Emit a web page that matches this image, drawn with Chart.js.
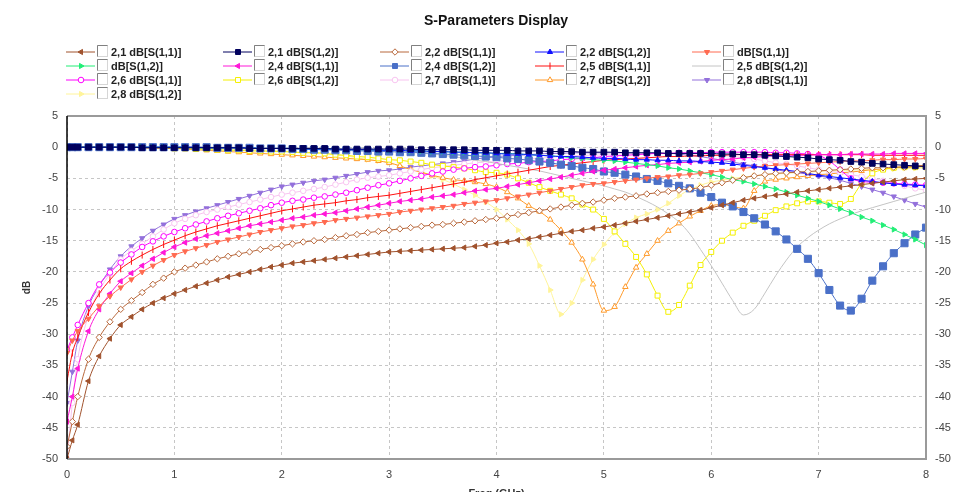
<!DOCTYPE html>
<html>
<head>
<meta charset="utf-8">
<title>S-Parameters Display</title>
<script src="https://cdn.jsdelivr.net/npm/chart.js@4.4.1/dist/chart.umd.min.js"></script>
<style>
  html, body { margin: 0; padding: 0; background: #fff; }
  #wrap { position: relative; width: 963px; height: 492px; }
</style>
</head>
<body>
<div id="wrap"><canvas id="chart" width="963" height="492"></canvas></div>
<script>
// frequency sweep (GHz)
const freqGHz = [0, 0.05, 0.1, 0.2, 0.3, 0.4, 0.5, 0.6, 0.7, 0.8, 0.9,
  1.0, 1.1, 1.2, 1.3, 1.4, 1.5, 1.6, 1.7, 1.8, 1.9,
  2.0, 2.1, 2.2, 2.3, 2.4, 2.5, 2.6, 2.7, 2.8, 2.9,
  3.0, 3.1, 3.2, 3.3, 3.4, 3.5, 3.6, 3.7, 3.8, 3.9,
  4.0, 4.1, 4.2, 4.3, 4.4, 4.5, 4.6, 4.7, 4.8, 4.9,
  5.0, 5.1, 5.2, 5.3, 5.4, 5.5, 5.6, 5.7, 5.8, 5.9,
  6.0, 6.1, 6.2, 6.3, 6.4, 6.5, 6.6, 6.7, 6.8, 6.9,
  7.0, 7.1, 7.2, 7.3, 7.4, 7.5, 7.6, 7.7, 7.8, 7.9,
  8.0];

const xTicks = [0, 1, 2, 3, 4, 5, 6, 7, 8];
const yTicks = [5, 0, -5, -10, -15, -20, -25, -30, -35, -40, -45, -50];

// values in dB, one per frequency
const s11_21 = [-50, -47, -44.5, -37.5, -33.5, -30.7, -28.5, -27.2, -26, -25, -24.2,
  -23.5, -22.9, -22.3, -21.8, -21.3, -20.8, -20.4, -20.0, -19.6, -19.2,
  -18.9, -18.6, -18.4, -18.2, -18.0, -17.8, -17.6, -17.4, -17.2, -17.0,
  -16.8, -16.7, -16.6, -16.5, -16.4, -16.3, -16.2, -16.1, -15.9, -15.7,
  -15.4, -15.2, -14.9, -14.7, -14.4, -14.1, -13.8, -13.5, -13.3, -13.0,
  -12.8, -12.5, -12.2, -11.9, -11.6, -11.3, -11.0, -10.7, -10.4, -10.1,
  -9.7, -9.3, -8.9, -8.5, -8.2, -7.9, -7.7, -7.5, -7.2, -7.0,
  -6.8, -6.6, -6.4, -6.2, -6.0, -5.8, -5.6, -5.4, -5.2, -5.1,
  -5.0];
const s12_21 = [0, 0, 0, 0, 0, 0, 0, 0, -0.1, -0.1, -0.1,
  -0.1, -0.1, -0.1, -0.1, -0.1, -0.1, -0.1, -0.2, -0.2, -0.2,
  -0.2, -0.2, -0.2, -0.2, -0.2, -0.3, -0.3, -0.3, -0.3, -0.3,
  -0.3, -0.3, -0.3, -0.4, -0.4, -0.4, -0.4, -0.4, -0.5, -0.5,
  -0.5, -0.5, -0.6, -0.6, -0.6, -0.7, -0.7, -0.7, -0.8, -0.8,
  -0.8, -0.8, -0.9, -0.9, -0.9, -0.9, -1.0, -1.0, -1.0, -1.0,
  -1.0, -1.1, -1.1, -1.2, -1.2, -1.3, -1.4, -1.5, -1.6, -1.7,
  -1.9, -2.0, -2.1, -2.3, -2.4, -2.6, -2.7, -2.8, -2.9, -3.0,
  -3.1];
const s11_22 = [-48, -44, -40, -34, -30.5, -28, -26, -24.6, -23.3, -22, -21,
  -20, -19.4, -18.9, -18.4, -17.9, -17.5, -17.1, -16.8, -16.4, -16.1,
  -15.8, -15.5, -15.2, -15.0, -14.8, -14.5, -14.2, -14.0, -13.7, -13.5,
  -13.3, -13.1, -12.9, -12.7, -12.5, -12.4, -12.2, -12.0, -11.8, -11.6,
  -11.4, -11.1, -10.8, -10.5, -10.2, -9.9, -9.6, -9.3, -9.0, -8.8,
  -8.5, -8.2, -8.0, -7.8, -7.5, -7.3, -7.1, -6.9, -6.7, -6.5,
  -6.1, -5.7, -5.3, -4.9, -4.6, -4.4, -4.2, -4.1, -4.0, -3.9,
  -3.8, -3.7, -3.6, -3.5, -3.4, -3.3, -3.3, -3.2, -3.2, -3.1,
  -3.1];
const s12_22 = [0, 0, 0, 0, 0, 0, 0, 0, 0, 0, 0,
  0, 0, 0, -0.1, -0.1, -0.1, -0.1, -0.1, -0.2, -0.2,
  -0.2, -0.2, -0.3, -0.3, -0.3, -0.3, -0.4, -0.4, -0.4, -0.5,
  -0.5, -0.5, -0.6, -0.6, -0.7, -0.7, -0.8, -0.8, -0.9, -0.9,
  -1.0, -1.1, -1.1, -1.2, -1.3, -1.4, -1.5, -1.5, -1.6, -1.7,
  -1.8, -1.8, -1.9, -2.0, -2.0, -2.1, -2.1, -2.2, -2.2, -2.3,
  -2.4, -2.5, -2.7, -2.9, -3.1, -3.3, -3.5, -3.7, -3.9, -4.2,
  -4.5, -4.7, -4.9, -5.1, -5.3, -5.5, -5.7, -5.9, -6.0, -6.1,
  -6.2];
const s11_23 = [-33, -31, -29.5, -27.5, -25.5, -23.9, -22.5, -21.2, -20, -19, -18.1,
  -17.3, -16.7, -16.2, -15.7, -15.2, -14.8, -14.4, -14.0, -13.6, -13.3,
  -13.0, -12.7, -12.5, -12.2, -12.0, -11.7, -11.5, -11.3, -11.1, -10.9,
  -10.7, -10.4, -10.2, -10.0, -9.8, -9.6, -9.4, -9.1, -8.9, -8.7,
  -8.5, -8.2, -7.9, -7.6, -7.3, -7.0, -6.7, -6.4, -6.1, -5.9,
  -5.8, -5.6, -5.4, -5.2, -5.0, -4.8, -4.7, -4.5, -4.4, -4.2,
  -4.0, -3.8, -3.6, -3.4, -3.2, -3.0, -2.9, -2.8, -2.7, -2.6,
  -2.5, -2.4, -2.3, -2.2, -2.2, -2.1, -2.0, -2.0, -1.9, -1.9,
  -1.8];
const s12_23 = [0, 0, 0, 0, 0, 0, 0, 0, 0, 0, 0,
  0, 0, -0.1, -0.1, -0.1, -0.1, -0.1, -0.1, -0.2, -0.2,
  -0.2, -0.2, -0.3, -0.3, -0.3, -0.3, -0.4, -0.4, -0.4, -0.5,
  -0.5, -0.5, -0.6, -0.6, -0.7, -0.7, -0.8, -0.8, -0.9, -0.9,
  -1.0, -1.0, -1.1, -1.2, -1.3, -1.4, -1.5, -1.7, -1.8, -2.0,
  -2.1, -2.2, -2.4, -2.6, -2.8, -3.0, -3.3, -3.5, -3.8, -4.1,
  -4.4, -4.8, -5.2, -5.5, -5.9, -6.3, -6.7, -7.2, -7.7, -8.2,
  -8.7, -9.3, -9.9, -10.5, -11.2, -11.8, -12.5, -13.2, -14.0, -14.8,
  -15.7];
const s11_24 = [-44, -40, -35.5, -29.5, -26, -23.5, -21.5, -20.2, -19, -17.9, -16.9,
  -16.0, -15.3, -14.7, -14.2, -13.8, -13.4, -13.0, -12.6, -12.3, -12.0,
  -11.7, -11.4, -11.2, -10.9, -10.7, -10.5, -10.2, -9.9, -9.6, -9.3,
  -9.0, -8.7, -8.5, -8.3, -8.0, -7.8, -7.6, -7.3, -7.0, -6.8,
  -6.6, -6.3, -6.0, -5.7, -5.4, -5.1, -4.8, -4.5, -4.2, -3.9,
  -3.7, -3.5, -3.3, -3.1, -2.9, -2.8, -2.6, -2.5, -2.4, -2.3,
  -2.1, -2.0, -1.9, -1.7, -1.6, -1.5, -1.4, -1.4, -1.3, -1.3,
  -1.2, -1.2, -1.2, -1.1, -1.1, -1.1, -1.1, -1.0, -1.0, -1.0,
  -1.0];
const s12_24 = [0, 0, 0, 0, 0, 0, 0, 0, 0, 0, 0,
  0, 0, 0, 0, -0.1, -0.1, -0.1, -0.1, -0.2, -0.2,
  -0.2, -0.3, -0.3, -0.4, -0.4, -0.5, -0.5, -0.6, -0.6, -0.7,
  -0.7, -0.8, -0.8, -0.9, -1.0, -1.1, -1.2, -1.3, -1.4, -1.5,
  -1.6, -1.8, -1.9, -2.1, -2.3, -2.5, -2.8, -3.0, -3.3, -3.5,
  -3.9, -4.1, -4.4, -4.7, -5.1, -5.4, -5.8, -6.2, -6.6, -7.3,
  -8.0, -8.9, -9.5, -10.4, -11.4, -12.4, -13.5, -14.8, -16.3, -17.9,
  -20.2, -22.9, -25.4, -26.2, -24.3, -21.4, -19.1, -17.0, -15.4, -14.0,
  -12.9];
const s11_25 = [-37.5, -33, -30.5, -26.5, -23.5, -21.3, -19.5, -18.3, -17.3, -16.4, -15.6,
  -14.9, -14.2, -13.6, -13.1, -12.6, -12.2, -11.8, -11.4, -11.0, -10.6,
  -10.2, -9.9, -9.6, -9.3, -9.1, -8.9, -8.6, -8.4, -8.1, -7.9,
  -7.7, -7.4, -7.1, -6.8, -6.5, -6.2, -5.9, -5.6, -5.2, -4.9,
  -4.6, -4.3, -4.0, -3.7, -3.4, -3.1, -2.9, -2.7, -2.5, -2.3,
  -2.1, -2.0, -1.9, -1.8, -1.7, -1.6, -1.5, -1.5, -1.4, -1.4,
  -1.3, -1.3, -1.2, -1.2, -1.2, -1.2, -1.2, -1.2, -1.2, -1.2,
  -1.2, -1.2, -1.2, -1.2, -1.2, -1.3, -1.3, -1.3, -1.3, -1.3,
  -1.3];
const s12_25 = [0, 0, 0, 0, 0, 0, 0, 0, 0, 0, 0,
  0, 0, 0, 0, 0, 0, 0, 0, -0.1, -0.1,
  -0.1, -0.1, -0.2, -0.2, -0.2, -0.3, -0.3, -0.4, -0.5, -0.5,
  -0.6, -0.7, -0.8, -1.0, -1.1, -1.3, -1.5, -1.8, -2.1, -2.3,
  -2.6, -2.9, -3.2, -3.5, -3.8, -4.2, -4.6, -5.0, -5.4, -5.8,
  -6.2, -6.7, -7.2, -7.9, -8.7, -9.6, -10.7, -12.0, -13.9, -16.4,
  -19.0, -21.8, -24.6, -26.9, -26.0, -23.4, -20.6, -18.1, -16.0, -14.5,
  -13.3, -12.3, -11.5, -10.8, -10.2, -9.7, -9.2, -8.7, -8.2, -7.7,
  -7.2];
const s11_26 = [-32.5, -30.5, -28.5, -25, -22, -20.1, -18.5, -17.2, -16, -15.1, -14.3,
  -13.6, -13.0, -12.4, -11.9, -11.4, -11.0, -10.6, -10.2, -9.8, -9.3,
  -8.9, -8.6, -8.4, -8.1, -7.9, -7.6, -7.3, -6.9, -6.5, -6.1,
  -5.8, -5.4, -5.0, -4.6, -4.2, -3.9, -3.6, -3.4, -3.2, -3.1,
  -2.9, -2.7, -2.6, -2.4, -2.3, -2.2, -2.0, -1.9, -1.8, -1.7,
  -1.5, -1.4, -1.3, -1.2, -1.1, -1.0, -1.0, -0.9, -0.9, -0.9,
  -0.8, -0.8, -0.8, -0.8, -0.8, -0.8, -0.9, -0.9, -1.0, -1.1,
  -1.3, -2.2, -3.6, -5.0, -5.5, -5.6, -5.7, -5.8, -5.9, -6.0,
  -6.1];
const s12_26 = [0, 0, 0, 0, 0, 0, 0, 0, -0.1, -0.1, -0.1,
  -0.2, -0.2, -0.3, -0.3, -0.4, -0.5, -0.5, -0.6, -0.6, -0.7,
  -0.7, -0.8, -0.9, -0.9, -1.0, -1.2, -1.3, -1.5, -1.6, -1.8,
  -2.0, -2.1, -2.3, -2.5, -2.8, -3.0, -3.2, -3.4, -3.7, -4.0,
  -4.1, -4.4, -5.0, -5.7, -6.4, -7.0, -7.6, -8.2, -9.2, -10.0,
  -11.5, -13.5, -15.5, -17.6, -20.4, -23.8, -26.4, -25.3, -22.2, -18.9,
  -16.8, -15.0, -13.7, -12.6, -11.8, -11.0, -10.1, -9.5, -9.0, -8.7,
  -8.7, -8.9, -9.1, -8.3, -5.8, -4.2, -3.6, -3.3, -3.2, -3.2,
  -3.1];
const s11_27 = [-50, -41, -34, -27, -23, -20.3, -18, -16.6, -15.5, -14.3, -13.2,
  -12.2, -11.5, -10.9, -10.4, -10.0, -9.6, -9.2, -8.8, -8.4, -8.0,
  -7.6, -7.3, -7.0, -6.7, -6.4, -6.0, -5.6, -5.2, -4.9, -4.7,
  -4.5, -4.2, -3.9, -3.6, -3.3, -3.1, -2.9, -2.7, -2.5, -2.4,
  -2.3, -2.1, -2.0, -1.9, -1.8, -1.6, -1.5, -1.4, -1.3, -1.3,
  -1.2, -1.1, -1.1, -1.0, -1.0, -1.0, -1.0, -1.0, -1.1, -1.1,
  -1.2, -1.3, -1.5, -1.7, -1.9, -2.2, -2.5, -2.7, -3.0, -3.3,
  -3.6, -3.9, -4.1, -4.4, -4.7, -5.0, -5.4, -5.8, -6.2, -6.6,
  -6.9];
const s12_27 = [0, 0, 0, 0, 0, 0, 0, 0, -0.1, -0.1, -0.2,
  -0.2, -0.3, -0.4, -0.5, -0.6, -0.7, -0.8, -0.9, -1.0, -1.1,
  -1.2, -1.3, -1.4, -1.5, -1.6, -1.7, -1.8, -1.9, -2.0, -2.2,
  -2.5, -3.0, -3.6, -4.0, -4.5, -4.9, -5.2, -5.4, -5.6, -5.9,
  -6.4, -7.2, -8.2, -9.4, -10.3, -11.6, -13.3, -15.3, -18.0, -22.0,
  -26.2, -25.6, -22.4, -19.3, -17.1, -15.0, -13.4, -12.2, -11.1, -10.2,
  -9.4, -9.2, -9.5, -9.8, -7.0, -5.5, -5.2, -5.0, -4.8, -4.6,
  -4.4, -4.3, -4.1, -4.0, -3.8, -3.6, -3.5, -3.3, -3.1, -3.0,
  -2.9];
const s11_28 = [-41, -36, -31, -25.5, -22.3, -19.6, -17.5, -15.9, -14.6, -13.4, -12.4,
  -11.5, -10.9, -10.3, -9.8, -9.3, -8.8, -8.3, -7.8, -7.3, -6.8,
  -6.3, -6.0, -5.7, -5.4, -5.2, -4.9, -4.6, -4.3, -4.0, -3.8,
  -3.7, -3.5, -3.2, -3.0, -2.8, -2.6, -2.4, -2.2, -1.9, -1.7,
  -1.5, -1.4, -1.3, -1.2, -1.1, -1.0, -1.0, -0.9, -0.9, -0.9,
  -0.9, -0.9, -0.9, -0.9, -1.0, -1.0, -1.0, -1.1, -1.3, -1.5,
  -1.8, -2.1, -2.4, -2.7, -3.0, -3.3, -3.6, -3.9, -4.1, -4.3,
  -4.6, -4.9, -5.3, -5.8, -6.3, -6.8, -7.3, -7.9, -8.5, -9.1,
  -9.6];
const s12_28 = [0, 0, 0, 0, 0, 0, 0, 0, 0, -0.1, -0.1,
  -0.1, -0.1, -0.2, -0.2, -0.3, -0.3, -0.4, -0.4, -0.5, -0.5,
  -0.6, -0.7, -0.8, -0.9, -1.0, -1.2, -1.4, -1.7, -2.0, -2.2,
  -2.5, -3.0, -3.5, -4.0, -4.6, -5.2, -5.9, -6.8, -7.7, -8.8,
  -10.0, -11.6, -13.3, -15.5, -19.0, -22.9, -26.8, -25.0, -21.3, -18.0,
  -15.6, -13.7, -12.3, -11.3, -10.7, -10.0, -9.0, -7.8, -6.8, -6.1,
  -5.6, -5.3, -5.0, -4.8, -4.6, -4.4, -4.3, -4.2, -4.1, -4.0,
  -3.9, -3.8, -3.8, -3.7, -3.6, -3.6, -3.5, -3.5, -3.4, -3.4,
  -3.3];

const seriesLabels = [
  '2,1 dB[S(1,1)]', '2,1 dB[S(1,2)]', '2,2 dB[S(1,1)]', '2,2 dB[S(1,2)]', 'dB[S(1,1)]',
  'dB[S(1,2)]', '2,4 dB[S(1,1)]', '2,4 dB[S(1,2)]', '2,5 dB[S(1,1)]', '2,5 dB[S(1,2)]',
  '2,6 dB[S(1,1)]', '2,6 dB[S(1,2)]', '2,7 dB[S(1,1)]', '2,7 dB[S(1,2)]', '2,8 dB[S(1,1)]',
  '2,8 dB[S(1,2)]'
];
const seriesValues = [s11_21, s12_21, s11_22, s12_22, s11_23, s12_23, s11_24, s12_24,
  s11_25, s12_25, s11_26, s12_26, s11_27, s12_27, s11_28, s12_28];

// look of each trace: colour, marker, marker rotation, hollow marker, marker size
const seriesStyle = [
  { color: '#a0522d', marker: 'triangle', rot: 270, open: false, r: 3 },
  { color: '#00005e', marker: 'rect', rot: 0, open: false, r: 4 },
  { color: '#b8683c', marker: 'rectRot', rot: 0, open: true, r: 3.2 },
  { color: '#1010ff', marker: 'triangle', rot: 0, open: false, r: 3 },
  { color: '#ff6a50', marker: 'triangle', rot: 180, open: false, r: 3 },
  { color: '#22ee77', marker: 'triangle', rot: 90, open: false, r: 3 },
  { color: '#ff18d8', marker: 'triangle', rot: 270, open: false, r: 3 },
  { color: '#4a70c8', marker: 'rect', rot: 0, open: false, r: 5 },
  { color: '#ff1010', marker: 'line', rot: 90, open: false, r: 3.5 },
  { color: '#c4c4c4', marker: false, rot: 0, open: false, r: 0 },
  { color: '#ff00ff', marker: 'circle', rot: 0, open: true, r: 2.8 },
  { color: '#f4f000', marker: 'rect', rot: 0, open: true, r: 3.5 },
  { color: '#f8c4f0', marker: 'circle', rot: 0, open: true, r: 2.8 },
  { color: '#ff9a2a', marker: 'triangle', rot: 0, open: true, r: 3.2 },
  { color: '#9370db', marker: 'triangle', rot: 180, open: false, r: 3 },
  { color: '#fff49a', marker: 'triangle', rot: 90, open: false, r: 3 }
];

const FONT = '"Liberation Sans", Arial, sans-serif';

const datasets = seriesLabels.map((label, i) => {
  const st = seriesStyle[i];
  return {
    label: label,
    data: freqGHz.map((f, j) => ({ x: f, y: seriesValues[i][j] })),
    borderColor: st.color,
    backgroundColor: st.open ? '#ffffff' : st.color,
    pointBorderColor: st.color,
    borderWidth: 1,
    pointStyle: st.marker,
    pointRotation: st.rot,
    pointRadius: st.r,
    pointBorderWidth: 1,
    cubicInterpolationMode: 'monotone',
    fill: false
  };
});

// title, legend with check boxes and plot frame
const decor = {
  id: 'decor',
  afterDraw(chart) {
    const ctx = chart.ctx;
    const a = chart.chartArea;
    ctx.save();

    // frame
    ctx.strokeStyle = '#9a9a9a';
    ctx.lineWidth = 2;
    ctx.beginPath();
    ctx.moveTo(a.left, a.top);
    ctx.lineTo(a.right, a.top);
    ctx.lineTo(a.right, a.bottom);
    ctx.lineTo(a.left, a.bottom);
    ctx.stroke();
    ctx.strokeStyle = '#000';
    ctx.lineWidth = 1.5;
    ctx.beginPath();
    ctx.moveTo(a.left, a.top);
    ctx.lineTo(a.left, a.bottom);
    ctx.stroke();

    // title
    ctx.fillStyle = '#111';
    ctx.font = 'bold 14px ' + FONT;
    ctx.textAlign = 'center';
    ctx.textBaseline = 'middle';
    ctx.fillText('S-Parameters Display', 496, 21);

    // legend: 5 columns, row-major
    const colX = [66, 223, 380, 535, 692];
    const rowY = [52, 66, 80, 94];
    ctx.font = 'bold 11px ' + FONT;
    ctx.textAlign = 'left';
    seriesLabels.forEach((label, i) => {
      const st = seriesStyle[i];
      const x0 = colX[i % 5];
      const y0 = rowY[Math.floor(i / 5)];
      ctx.strokeStyle = st.color;
      ctx.lineWidth = 1;
      ctx.beginPath();
      ctx.moveTo(x0, y0);
      ctx.lineTo(x0 + 29, y0);
      ctx.stroke();
      if (st.marker) {
        ctx.fillStyle = st.open ? '#fff' : st.color;
        ctx.strokeStyle = st.color;
        Chart.helpers.drawPoint(ctx, {
          pointStyle: st.marker, rotation: st.rot,
          radius: Math.min(st.r, 3.5), borderWidth: 1
        }, x0 + 15, y0);
      }
      // check box
      const bx = x0 + 31.5, by = y0 - 6.5;
      ctx.fillStyle = '#fff';
      ctx.fillRect(bx, by, 10, 11);
      ctx.lineWidth = 1;
      ctx.strokeStyle = '#d6d6d6';
      ctx.strokeRect(bx, by, 10, 11);
      ctx.strokeStyle = '#808080';
      ctx.beginPath();
      ctx.moveTo(bx, by + 11);
      ctx.lineTo(bx, by);
      ctx.lineTo(bx + 10, by);
      ctx.stroke();
      ctx.fillStyle = '#222';
      ctx.fillText(label, x0 + 45, y0 + 0.5);
    });
    ctx.restore();
  }
};

const tickFont = { family: FONT, size: 11 };

new Chart(document.getElementById('chart'), {
  type: 'line',
  data: { datasets: datasets },
  options: {
    responsive: false,
    animation: false,
    devicePixelRatio: 1,
    layout: { padding: { top: 116, left: 0, right: 0, bottom: 0 } },
    plugins: {
      legend: { display: false },
      title: { display: false },
      tooltip: { enabled: false }
    },
    scales: {
      x: {
        type: 'linear',
        min: xTicks[0],
        max: xTicks[xTicks.length - 1],
        afterBuildTicks: s => { s.ticks = xTicks.map(v => ({ value: v })); },
        afterFit: s => { s.height = 33; },
        grid: { color: '#c6c6c6', drawTicks: false },
        border: { display: false, dash: [3, 3] },
        ticks: { font: tickFont, color: '#444', padding: 9, maxRotation: 0 },
        title: {
          display: true, text: 'Freq (GHz)', color: '#333',
          font: { family: FONT, size: 11, weight: 'bold' },
          padding: { top: 0, bottom: -9 }
        }
      },
      y: {
        position: 'left',
        min: yTicks[yTicks.length - 1],
        max: yTicks[0],
        afterBuildTicks: s => { s.ticks = yTicks.map(v => ({ value: v })); },
        afterFit: s => { s.width = 67; },
        grid: { color: '#c6c6c6', drawTicks: false },
        border: { display: false, dash: [3, 3] },
        ticks: { font: tickFont, color: '#444', padding: 9 },
        title: {
          display: true, text: 'dB', color: '#333',
          font: { family: FONT, size: 10, weight: 'bold' },
          padding: { top: 21, bottom: 0 }
        }
      },
      y2: {
        position: 'right',
        min: yTicks[yTicks.length - 1],
        max: yTicks[0],
        afterBuildTicks: s => { s.ticks = yTicks.map(v => ({ value: v })); },
        afterFit: s => { s.width = 37; },
        grid: { display: false, drawTicks: false },
        border: { display: false },
        ticks: { font: tickFont, color: '#444', padding: 9 }
      }
    }
  },
  plugins: [decor]
});
</script>
</body>
</html>
